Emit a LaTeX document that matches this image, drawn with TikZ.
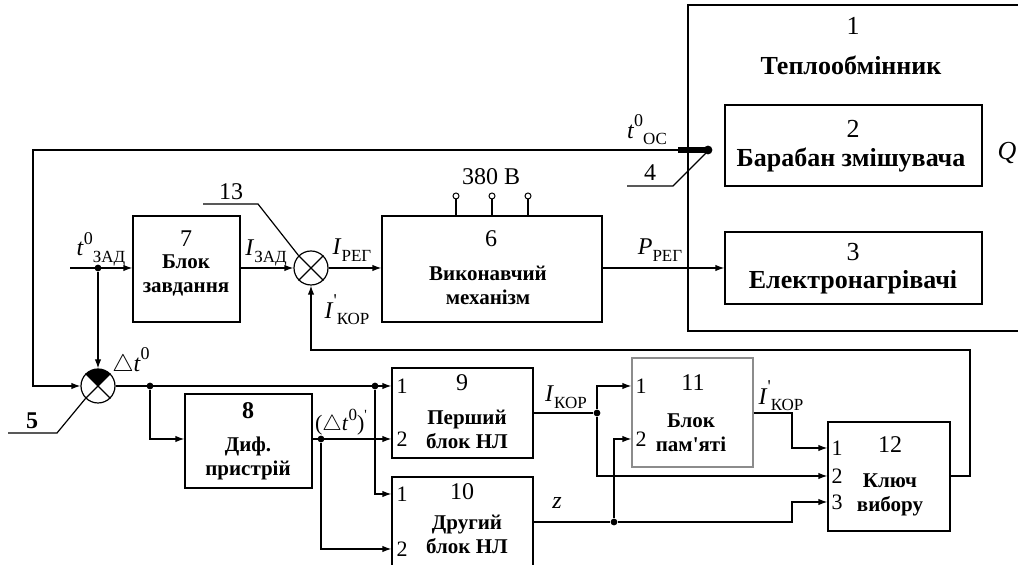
\documentclass[tikz,border=0pt]{standalone}
\usepackage{fontspec}
\setmainfont{Liberation Serif}
\usetikzlibrary{positioning,arrows.meta,fit,calc}

% signal name: letter, upper index, lower index
\newcommand{\sg}[3]{\textit{#1}\raisebox{1.05ex}{\fontsize{9}{9}\selectfont #2}\raisebox{-0.6ex}{\fontsize{8.5}{9}\selectfont #3}}

\begin{document}
\begin{tikzpicture}[x=0.5pt,y=-0.5pt,line width=0.6pt,
  >={Latex[length=4.5pt,width=3.2pt]},
  blk/.style={draw,inner sep=0pt},
  sum/.style={draw,circle,minimum size=17pt,inner sep=0pt},
  bignum/.style={inner sep=0pt,font=\fontsize{13}{15}\selectfont},
  bigname/.style={inner sep=0pt,font=\bfseries\fontsize{13}{15}\selectfont},
  num/.style={inner sep=0pt,font=\fontsize{12}{14}\selectfont},
  bname/.style={inner sep=0pt,align=center,font=\bfseries\fontsize{10.5}{12}\selectfont},
  port/.style={inner sep=0pt,font=\fontsize{11}{12}\selectfont},
  sig/.style={inner sep=0pt,font=\fontsize{12}{14}\selectfont},
  dot/.style={fill,circle,inner sep=0pt,minimum size=3.4pt}]
\useasboundingbox (0,0) rectangle (1018,565);
\clip (0,0) rectangle (1018,565);

% object frame
\draw (1030,5) -| (688,331) -- (1030,331);
\node[bignum] (n1) at (853,26) {1};
\node[bigname] (t1) at (851,65) {Теплообмінник};
\node[blk,fit={(725,105) (982,186)}] (b2) {};
\node[bignum] (n2) at (853,129) {2};
\node[bigname] (t2) at (851,160) {Барабан змішувача};
\node[blk,fit={(725,232) (982,304)}] (b3) {};
\node[bignum] (n3) at (853,252) {3};
\node[bigname] (t3) at (853,282) {Електронагрівачі};
\node[font=\fontsize{13}{15}\selectfont\itshape,inner sep=0pt] (lq) at (1007,153) {Q};

% upper chain
\node[blk,fit={(133,216) (240,322)}] (b7) {};
\node[num] (n7) at (186,239) {7};
\node[bname] (t7) at (186,275) {Блок\\завдання};
\node[sum] (c13) at (311,268) {};
\draw (c13.45) -- (c13.225) (c13.135) -- (c13.315);
\node[blk,fit={(382,216) (602,322)}] (b6) {};
\node[num] (n6) at (491,239) {6};
\node[bname] (t6) at (488,285) {Виконавчий\\механізм};
\node[num] (l380) at (491,177) {380 В};
\foreach \x in {456,492,528} {
  \draw (\x,216) -- (\x,199);
  \draw[line width=0.5pt] (\x,196) circle[radius=1.5pt];
}

% lower chain
\node[sum] (c5) at (98,386) {};
\begin{scope}
  \clip (c5.center) -- ($(c5.center)+(-20,-20)$) -- ($(c5.center)+(20,-20)$) -- cycle;
  \fill (c5.center) circle[radius=8.5pt];
\end{scope}
\draw (c5.45) -- (c5.225) (c5.135) -- (c5.315);
\node[blk,fit={(185,394) (312,488)}] (b8) {};
\node[num,font=\bfseries\fontsize{12}{14}\selectfont] (n8) at (248,411) {8};
\node[bname] (t8) at (248,458) {Диф.\\пристрій};
\node[blk,fit={(392,368) (533,458)}] (b9) {};
\node[num] (n9) at (462,383) {9};
\node[bname] (t9) at (467,429) {Перший\\блок НЛ};
\node[blk,fit={(392,477) (533,600)}] (b10) {};
\node[num] (n10) at (462,492) {10};
\node[bname] (t10) at (467,534) {Другий\\блок НЛ};
\node[blk,draw=black!45,fit={(632,358) (753,467)}] (b11) {};
\node[num] (n11) at (693,383) {11};
\node[bname] (t11) at (691,433) {Блок\\пам\textquotesingle яті};
\node[blk,fit={(828,422) (950,531)}] (b12) {};
\node[num] (n12) at (890,445) {12};
\node[bname] (t12) at (890,495) {Ключ\\вибору};

% port numbers
\node[port] at (402,386) {1};
\node[port] at (402,439) {2};
\node[port] at (402,494) {1};
\node[port] at (402,549) {2};
\node[port] at (641,386) {1};
\node[port] at (641,439) {2};
\node[port] at (837,448) {1};
\node[port] at (837,476) {2};
\node[port] at (837,502) {3};

% junctions
\coordinate (tin) at (70,268);
\node[dot] (j1) at (98,268) {};
\node[dot] (j2) at (150,386) {};
\node[dot] (j3) at (375,386) {};
\node[dot] (j4) at (321,439) {};
\node[dot] (j5) at (597,413) {};
\node[dot] (j6) at (614,522) {};
\coordinate (sens) at (708,150);
\coordinate (sth) at (678,150);
\coordinate (fbl) at (33,150);

% upper connectors
\draw[->] (tin) -- (b7.west |- tin);
\draw[->] (j1) -- (c5.north);
\draw[->] (b7.east |- c13) -- (c13.west);
\draw[->] (c13.east) -- (b6.west |- c13);
\draw[->] (b6.east |- b3) -- (b3.west);
\draw[->] (b12.east |- 0,476) -- (970,476) |- (c13.south |- 0,350) -- (c13.south);
\draw[line width=2.6pt] (sens) -- (sth);
\fill (sens) circle[radius=2.2pt];
\draw[->] (sth) -- (fbl) |- (c5.west);

% lower connectors
\draw[->] (c5.east) -- (b9.west |- c5);
\draw[->] (j2) |- (b8.west |- j4);
\draw[->] (j3) |- (b10.west |- 0,494);
\draw[->] (b8.east |- j4) -- (b9.west |- j4);
\draw[->] (j4) |- (b10.west |- 0,549);
\draw (b9.east |- j5) -- (j5);
\draw[->] (j5) |- (b11.west |- 0,386);
\draw[->] (j5) |- (b12.west |- 0,476);
\draw[->] (b10.east |- j6) -- (j6) -- (792,522) |- (b12.west |- 0,502);
\draw[->] (j6) |- (b11.west |- 0,439);
\draw[->] (b11.east |- j5) -- (792,413) |- (b12.west |- 0,448);

% leaders
\draw (627,186) -- (673,186) -- (706,153);
\node[num] (l4) at (650,173) {4};
\draw (203,204) -- (258,204) -- (c13.135);
\node[num] (l13) at (231,192) {13};
\draw (8,433) -- (57,433) -- (c5.225);
\node[num,font=\bfseries\fontsize{12}{14}\selectfont] (l5) at (32,421) {5};

% signal labels
\node[sig] (lt) at (101,249) {\sg{t}{0}{ЗАД}};
\node[sig] (liz) at (266,253) {\sg{I}{}{ЗАД}};
\node[sig] (lir) at (352,250) {\sg{I}{}{РЕГ}};
\node[sig] (lik) at (347,310) {\sg{I}{\textquotesingle}{КОР}};
\node[sig] (lp) at (660,250) {\sg{P}{}{РЕГ}};
\node[sig] (lto) at (647,130) {\sg{t}{0}{ОС}};
\node[sig] (ldt) at (131,362) {$\triangle$\textit{t}\raisebox{1.05ex}{\fontsize{9}{9}\selectfont 0}};
\node[sig,font=\fontsize{11}{13}\selectfont] (ldd) at (341,422) {($\triangle$\textit{t}\raisebox{1.05ex}{\fontsize{8.5}{9}\selectfont 0})\raisebox{1.1ex}{\fontsize{7}{8}\selectfont\textquotesingle}};
\node[sig] (lk) at (566,397) {\sg{I}{}{КОР}};
\node[sig] (lk2) at (781,396) {\sg{I}{\textquotesingle}{КОР}};
\node[sig] (lz) at (557,503) {\textit{z}};
\end{tikzpicture}
\end{document}
